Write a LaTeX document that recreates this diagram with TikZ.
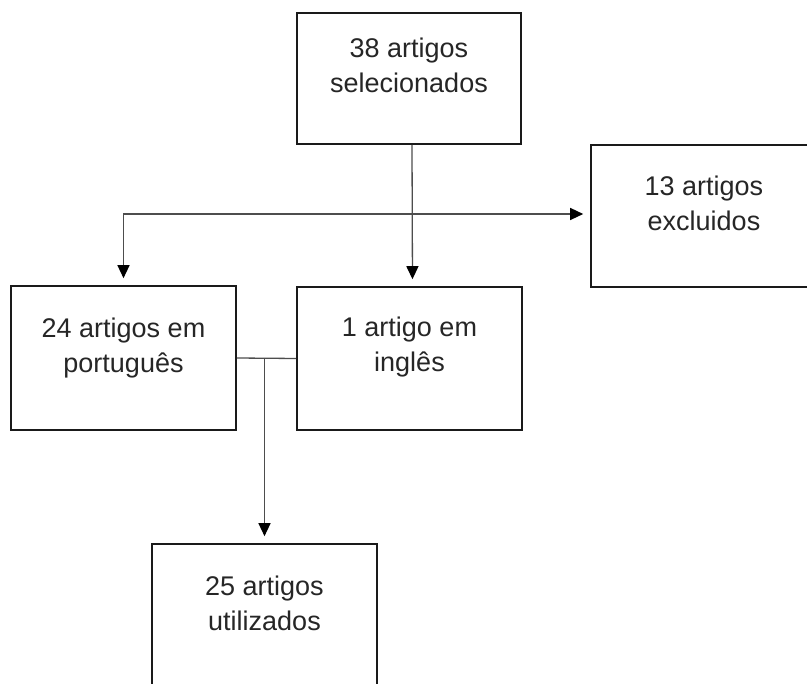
\documentclass[tikz,border=0pt]{standalone}
\usepackage{fontspec}
\setmainfont{Liberation Sans}
\usetikzlibrary{arrows.meta}
\definecolor{boxline}{HTML}{1A1A1A}
\definecolor{conline}{HTML}{4D4D4D}
\definecolor{txt}{HTML}{262626}
\begin{document}
\begin{tikzpicture}[x=1pt,y=-1pt,
  box/.style={draw=boxline,line width=1.6pt,inner sep=0pt,fill=white},
  lbl/.style={align=center,text=txt,inner sep=0pt,font=\fontsize{27}{35}\selectfont},
  con/.style={draw=conline,line width=1.3pt},
  arr/.style={con,-{Triangle[width=12pt,length=13pt,color=black]},shorten >=7pt}]
\useasboundingbox[fill=white] (0,0) rectangle (807,684);
% boxes
\node[box,minimum width=224pt,minimum height=131pt] (A) at (409,78.5) {};
\node[box,minimum width=226pt,minimum height=142pt] (B) at (704,216) {};
\node[box,minimum width=225pt,minimum height=144pt] (C) at (123.5,358) {};
\node[box,minimum width=225pt,minimum height=143pt] (D) at (409.5,358.5) {};
\node[box,minimum width=225pt,minimum height=160pt] (E) at (264.5,624) {};
% labels
\node[lbl] (tA) at (409,65.5) {38 artigos\\selecionados};
\node[lbl] (tB) at (704,203.5) {13 artigos\\excluidos};
\node[lbl] (tC) at (123.5,348.5) {24 artigos em\\português};
\node[lbl] (tD) at (409.5,347.5) {1 artigo em\\inglês};
\node[lbl] (tE) at (264.5,603.5) {25 artigos\\utilizados};
% connectors
\coordinate (a1) at ([xshift=3pt]A.south);
\coordinate (d1) at ([xshift=3pt]D.north);
\draw[arr] (a1) -- (d1);
\coordinate (j1) at (412,214);
\draw[arr] (j1) -- (B.west |- j1);
\draw[arr] (j1) -| (C.north);
\draw[con] (C.east) -- (D.west);
\coordinate (j2) at (E.north |- C.east);
\draw[arr] (j2) -- (E.north);
\end{tikzpicture}
\end{document}
